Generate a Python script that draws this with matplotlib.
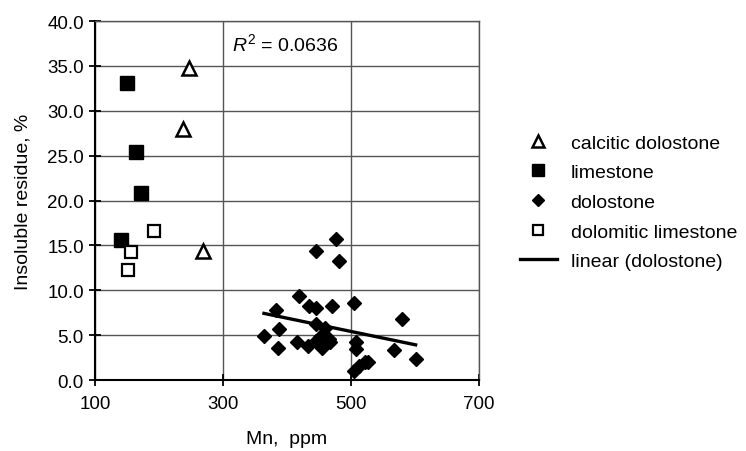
import numpy as np
import matplotlib
matplotlib.use("Agg")
import matplotlib.pyplot as plt
from matplotlib.lines import Line2D

plt.rcParams['font.family'] = ['Liberation Sans', 'DejaVu Sans']
plt.rcParams['mathtext.fontset'] = 'custom'
plt.rcParams['mathtext.rm'] = 'Liberation Sans'
plt.rcParams['mathtext.it'] = 'Liberation Sans:italic'

# ---- data ----
calc_dol_mn = [247, 237, 269]
calc_dol_ir = [34.8, 28.0, 14.4]

limestone_mn = [150, 164, 172, 141]
limestone_ir = [33.1, 25.4, 20.8, 15.6]

dol_lime_mn = [192, 156, 152]
dol_lime_ir = [16.6, 14.3, 12.3]

dolostone_mn = [477, 445, 482, 419, 435, 446, 470, 505, 383, 580, 445, 459,
                388, 364, 415, 433, 446, 454, 467, 452, 386, 508, 508, 567,
                601, 505, 513, 522, 527, 466]
dolostone_ir = [15.7, 14.4, 13.3, 9.4, 8.2, 8.0, 8.3, 8.6, 7.8, 6.8, 6.2, 5.8,
                5.7, 4.9, 4.2, 3.8, 4.4, 3.6, 4.2, 4.8, 3.6, 4.2, 3.4, 3.3,
                2.3, 1.0, 1.6, 2.0, 2.0, 4.6]

r2_text = "$R^2$ = 0.0636"
x_ticks = [100, 300, 500, 700]
y_ticks = [0, 5, 10, 15, 20, 25, 30, 35, 40]

# ---- figure ----
W, H = 746, 452
fig = plt.figure(figsize=(W / 100, H / 100), dpi=100)
ax = fig.add_axes([95 / W, 1 - 381 / H, (479 - 95) / W, (381 - 22) / H])

ax.set_xlim(100, 700)
ax.set_ylim(0, 40)
ax.set_xticks(x_ticks)
ax.set_yticks(y_ticks)
ax.set_xticklabels([str(v) for v in x_ticks])
ax.set_yticklabels([f"{v:.1f}" for v in y_ticks])
ax.grid(True, color='#555555', linewidth=1.0)
ax.set_axisbelow(True)

for s in ['top', 'right']:
    ax.spines[s].set_color('#555555')
    ax.spines[s].set_linewidth(1.0)
for s in ['left', 'bottom']:
    ax.spines[s].set_color('black')
    ax.spines[s].set_linewidth(1.5)

ax.tick_params(axis='both', direction='inout', length=8, width=1.3,
               labelsize=13.5, color='black')
ax.tick_params(axis='y', pad=4)
ax.tick_params(axis='x', pad=7)

# scatter
ax.plot(calc_dol_mn, calc_dol_ir, linestyle='none', marker='^', ms=9.5,
        mfc='white', mec='black', mew=1.8, zorder=3)
ax.plot(limestone_mn, limestone_ir, linestyle='none', marker='s', ms=9.5,
        mfc='black', mec='black', zorder=3)
ax.plot(dolostone_mn, dolostone_ir, linestyle='none', marker='D', ms=7,
        mfc='black', mec='black', zorder=3)
ax.plot(dol_lime_mn, dol_lime_ir, linestyle='none', marker='s', ms=8.5,
        mfc='white', mec='black', mew=1.6, zorder=3)

# linear trendline of dolostone
coef = np.polyfit(dolostone_mn, dolostone_ir, 1)
tx = np.array([min(dolostone_mn), max(dolostone_mn)])
ax.plot(tx, np.polyval(coef, tx), color='black', linewidth=2.4, zorder=4)

ax.text(398, 37.5, r2_text, ha='center', va='center', fontsize=14)

ax.set_xlabel("Mn,  ppm", fontsize=14)
ax.set_ylabel("Insoluble residue, %", fontsize=14)
ax.xaxis.set_label_coords(0.5, -0.14)
ax.yaxis.set_label_coords(-0.165, 0.5)

handles = [
    Line2D([], [], linestyle='none', marker='^', ms=8, mfc='white', mec='black', mew=1.8),
    Line2D([], [], linestyle='none', marker='s', ms=8, mfc='black', mec='black'),
    Line2D([], [], linestyle='none', marker='D', ms=6, mfc='black', mec='black'),
    Line2D([], [], linestyle='none', marker='s', ms=7.5, mfc='white', mec='black', mew=1.6),
    Line2D([], [], color='black', linewidth=2.4),
]
labels = ["calcitic dolostone", "limestone", "dolostone",
          "dolomitic limestone", "linear (dolostone)"]
fig.legend(handles, labels, loc='upper left', bbox_to_anchor=(520 / W, 1 - 135 / H),
           frameon=False, fontsize=14, handlelength=1.9, handletextpad=0.7,
           labelspacing=0.62, borderpad=0, borderaxespad=0)

fig.savefig("out.png", dpi=100)
